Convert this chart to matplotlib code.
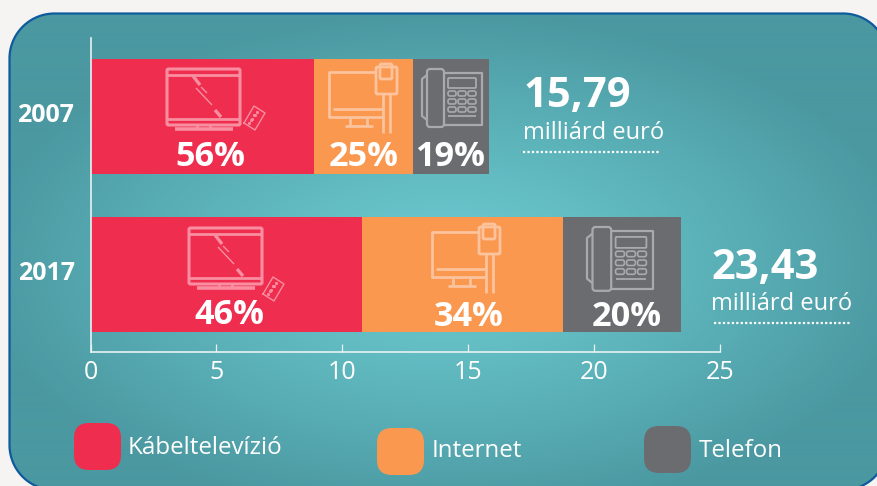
import numpy as np
import matplotlib
matplotlib.use("Agg")
import matplotlib.pyplot as plt
from matplotlib.patches import FancyBboxPatch, Polygon

plt.rcParams["font.family"] = ["Open Sans", "DejaVu Sans"]

# Data
years = ["2007", "2017"]
kabel = [8.88, 10.79]
internet = [3.93, 7.98]
telefon = [3.02, 4.69]
labels_kabel = ["56%", "46%"]
labels_internet = ["25%", "34%"]
labels_telefon = ["19%", "20%"]
totals = ["15,79", "23,43"]
xticks = [0, 5, 10, 15, 20, 25]
unit = "milliárd euró"
legend_names = ["Kábeltelevízió", "Internet", "Telefon"]

RED = "#ef2d4e"
ORANGE = "#fa9850"
GREY = "#6b6c70"
W, H = 877, 486

fig = plt.figure(figsize=(W / 100, H / 100), dpi=100, facecolor="#f6f4f3")

# Background panel, everything in pixel coordinates
bg = fig.add_axes([0, 0, 1, 1])
bg.axis("off")

yy, xx = np.mgrid[0:H, 0:W]
dist = np.sqrt(((xx - 445) / 470) ** 2 + ((yy - 265) / 250) ** 2)
dist = np.clip(dist, 0, 1) ** 1.2
c0 = np.array([0x6c, 0xcb, 0xd0]) / 255
c1 = np.array([0x4b, 0x98, 0xa1]) / 255
img = c0 + (c1 - c0) * dist[..., None]
im = bg.imshow(img, extent=(0, W, H, 0), aspect="auto", zorder=1)


def rounded_outline(x0, y0, x1, y1, r):
    pts = []
    corners = [(x0 + r, y0 + r, 180, 270), (x1 - r, y0 + r, 270, 360),
               (x1 - r, y1 - r, 0, 90), (x0 + r, y1 - r, 90, 180)]
    for cx, cy, a0, a1 in corners:
        a = np.radians(np.linspace(a0, a1, 40))
        pts.append(np.column_stack([cx + r * np.cos(a), cy + r * np.sin(a)]))
    return np.vstack(pts)


panel = Polygon(rounded_outline(9.5, 13.5, 888, 490, 45), closed=True, fc="none",
                ec="#0f5a9c", lw=1.6, zorder=3)
bg.add_patch(panel)
im.set_clip_path(panel)
bg.set_xlim(0, W)
bg.set_ylim(H, 0)

# Chart axes: 0-25 spans px 90.5-720, axis line at y=352
ax = fig.add_axes([90.5 / W, 1 - 352 / H, (720 - 90.5) / W, (352 - 38) / H])
ax.patch.set_alpha(0)
ax.set_xlim(0, 25)
ax.set_ylim(352, 38)
bar_y = [116.5, 274.5]
left2 = [a + b for a, b in zip(kabel, internet)]
ax.barh(bar_y, kabel, height=115, color=RED, zorder=2)
ax.barh(bar_y, internet, left=kabel, height=115, color=ORANGE, zorder=2)
ax.barh(bar_y, telefon, left=left2, height=115, color=GREY, zorder=2)
for s in ["top", "right"]:
    ax.spines[s].set_visible(False)
for s in ["left", "bottom"]:
    ax.spines[s].set_color("#e8f2f2")
    ax.spines[s].set_linewidth(1.2)
ax.set_xticks(xticks)
ax.set_xticklabels([str(t) for t in xticks], fontsize=18, color="white")
ax.tick_params(axis="x", direction="in", length=6, width=0.9, color="#e8f2f2", pad=6)
ax.set_yticks([])

# Overlay for icons and annotations
ov = fig.add_axes([0, 0, 1, 1])
ov.patch.set_alpha(0)
ov.set_xlim(0, W)
ov.set_ylim(H, 0)
ov.axis("off")


def box(x, y, w, h, color, lw=2.0, r=1.5, z=5):
    ov.add_patch(FancyBboxPatch((x, y), w, h, boxstyle=f"round,pad=0,rounding_size={r}",
                                fc="none", ec=color, lw=lw, zorder=z))


def line(xs, ys, color, lw=2.0):
    ov.plot(xs, ys, color=color, lw=lw, zorder=5, solid_capstyle="butt")


def tv_icon(x, y, rx, ry):
    c = "#f98ea1"
    box(x, y, 73, 56, c, lw=2.2)
    line([x, x + 73], [y + 6, y + 6], c, 2)
    line([x, x + 73], [y + 50, y + 50], c, 2)
    line([x + 26, x + 33], [y + 7, y + 16], c, 2.4)
    line([x + 34, x + 40], [y + 18, y + 24], c, 1)
    line([x + 29, x + 45], [y + 19, y + 36], c, 1)
    line([x + 48, x + 54], [y + 41, y + 48], c, 2.4)
    line([x + 30, x + 30], [y + 56, y + 60], c, 2)
    line([x + 43, x + 43], [y + 56, y + 60], c, 2)
    line([x + 8, x + 66], [y + 60, y + 60], c, 2.6)
    # remote
    ov.plot(np.array([0, 10, 21, 11, 0]) + x + rx, np.array([17, 0, 7, 24, 17]) + y + ry,
            color=c, lw=1, zorder=5)
    ov.plot(np.array([7, 10, 13, 5, 8, 11]) + x + rx, np.array([14, 9, 6, 17, 13, 9]) + y + ry,
            ls="none", marker="s", ms=1.1, color=c, zorder=5)


def pc_icon(x, y):
    c = "#fcc39d"
    line([x + 47, x, x, x + 53], [y + 8, y + 8, y + 53, y + 53], c, 2)
    line([x + 4, x + 53], [y + 45, y + 45], c, 2)
    line([x + 21, x + 21], [y + 53, y + 62], c, 2)
    line([x + 38, x + 38], [y + 53, y + 62], c, 2)
    line([x + 16, x + 44], [y + 62, y + 62], c, 2)
    # plug
    box(x + 47, y + 3, 21, 27, c, lw=2)
    box(x + 51, y, 12, 15, c, lw=2)
    line([x + 54, x + 54], [y + 30, y + 69], c, 2)
    line([x + 61, x + 61], [y + 30, y + 69], c, 2)


def phone_icon(x, y, s=1.0):
    c = "#a9aaad"
    box(x + 5 * s, y, 17 * s, 58 * s, c, lw=1.6, r=3)
    line([x + 22 * s, x + 60 * s, x + 60 * s, x + 22 * s],
         [y + 4 * s, y + 4 * s, y + 56 * s, y + 56 * s], c, 1.6)
    line([x + 5 * s, x, x, x + 5 * s], [y + 6 * s, y + 10 * s, y + 47 * s, y + 51 * s], c, 1.6)
    box(x + 26 * s, y + 9 * s, 28 * s, 10 * s, c, lw=1.3, r=1)
    for i in range(3):
        for j in range(3):
            box(x + (26 + j * 10) * s, y + (22 + i * 8) * s, 8 * s, 5 * s, c, lw=1.2, r=2)
    line([x + 26 * s, x + 54 * s], [y + 47 * s, y + 47 * s], c, 1.3)


tv_icon(167, 69, 77, 37)
tv_icon(189, 228, 74, 49)
pc_icon(329, 64)
pc_icon(432, 224)
phone_icon(422, 69)
phone_icon(587, 227, 1.1)

# Year labels
ov.text(74, 115, years[0], fontsize=18, fontweight="bold", color="white", ha="right", va="center")
ov.text(75, 273, years[1], fontsize=18, fontweight="bold", color="white", ha="right", va="center")

# Percent labels
pct_style = dict(fontsize=24.7, fontweight="bold", color="white", ha="center", va="center", zorder=6)
for x, s in zip([210, 363.5, 450], [labels_kabel[0], labels_internet[0], labels_telefon[0]]):
    ov.text(x, 157, s, **pct_style)
ov.text(229.5, 315, labels_kabel[1], **pct_style)
ov.text(469, 317, labels_internet[1], **pct_style)
ov.text(627, 317, labels_telefon[1], **pct_style)

# Totals
dots = (0, (1, 1))
ov.text(524, 96, totals[0], fontsize=30, fontweight="bold", color="white", va="center", ha="left")
ov.text(523, 133, unit, fontsize=17, color="white", va="center", ha="left")
ov.plot([523, 660], [152, 152], color="white", lw=1.6, ls=dots)
ov.text(711, 268, totals[1], fontsize=30, fontweight="bold", color="white", va="center", ha="left")
ov.text(711, 304, unit, fontsize=17, color="white", va="center", ha="left")
ov.plot([714, 851], [323, 323], color="white", lw=1.6, ls=dots)

# Legend
legend_colors = [RED, ORANGE, GREY]
legend_x = [74, 377, 644]
legend_y = [423, 428, 426]
legend_tx = [128, 432, 699]
legend_ty = [448, 451, 451]
for n, c, x, y, tx, ty in zip(legend_names, legend_colors, legend_x, legend_y, legend_tx, legend_ty):
    ov.add_patch(FancyBboxPatch((x, y), 47, 47, boxstyle="round,pad=0,rounding_size=15", fc=c, ec="none", zorder=5))
    ov.text(tx, ty, n, fontsize=17.4, color="white", va="center", ha="left")

fig.savefig("out.png", dpi=100, facecolor=fig.get_facecolor())
